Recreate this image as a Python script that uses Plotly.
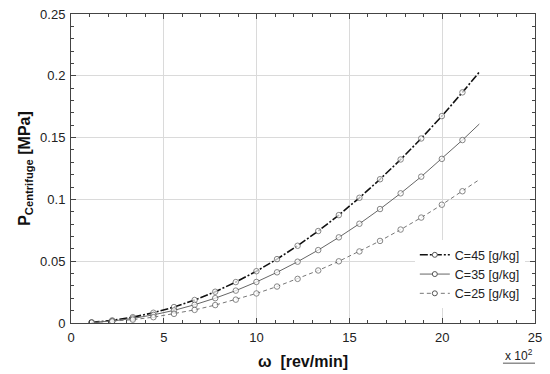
import plotly.graph_objects as go

omega = [1.11, 2.22, 3.33, 4.44, 5.55, 6.66, 7.77, 8.88, 9.99, 11.1,
         12.21, 13.32, 14.43, 15.54, 16.65, 17.76, 18.87, 19.98, 21.09, 22.0]
p_c45 = [0.0005, 0.0021, 0.0047, 0.0083, 0.0129, 0.0186, 0.0253, 0.0331, 0.0419, 0.0517,
         0.0625, 0.0744, 0.0873, 0.1013, 0.1163, 0.1323, 0.1493, 0.1674, 0.1866, 0.203]
p_c35 = [0.0004, 0.0016, 0.0037, 0.0066, 0.0102, 0.0148, 0.0201, 0.0262, 0.0332, 0.0410,
         0.0496, 0.0590, 0.0693, 0.0803, 0.0922, 0.1049, 0.1184, 0.1328, 0.1480, 0.161]
p_c25 = [0.0003, 0.0012, 0.0027, 0.0047, 0.0074, 0.0106, 0.0145, 0.0189, 0.0239, 0.0295,
         0.0357, 0.0425, 0.0499, 0.0579, 0.0664, 0.0756, 0.0853, 0.0957, 0.1066, 0.116]
labels = ["C=45 [g/kg]", "C=35 [g/kg]", "C=25 [g/kg]"]

FONT = "Arial, Liberation Sans, sans-serif"
styles = [
    dict(color="#111111", width=1.6, dash="8px,2px,2px,2px"),
    dict(color="#666666", width=1.0, dash="solid"),
    dict(color="#777777", width=1.0, dash="4px,3px"),
]
msize = [5.5] * (len(omega) - 1) + [0]

fig = go.Figure()
for ys, lab, st in zip([p_c45, p_c35, p_c25], labels, styles):
    fig.add_trace(go.Scatter(
        x=omega, y=ys, mode="lines+markers", name=lab, showlegend=False,
        line=st,
        marker=dict(symbol="circle", size=msize, color="white",
                    line=dict(color="#555555", width=1)),
    ))
    fig.add_trace(go.Scatter(
        x=[None], y=[None], mode="lines+markers", name=lab,
        line=st,
        marker=dict(symbol="circle", size=5, color="white",
                    line=dict(color="#555555", width=1)),
    ))

axis_common = dict(
    showline=True, linecolor="#444444", linewidth=1, mirror="allticks",
    ticks="inside", ticklen=5, tickcolor="#444444",
    showgrid=True, gridcolor="#dadada", gridwidth=1, zeroline=False,
    tickfont=dict(family=FONT, size=13, color="#222222"),
    automargin=False,
)
fig.update_xaxes(
    range=[0, 25], tickmode="array", tickvals=[0, 5, 10, 15, 20, 25],
    ticktext=["0", "5", "10", "15", "20", "25"], ticklabelstandoff=2,
    minor=dict(dtick=1, tick0=0, ticks="inside", ticklen=3, tickcolor="#444444", showgrid=False),
    title=dict(text="<b>ω  [rev/min]</b>", font=dict(family=FONT, size=16, color="#111111"), standoff=12),
    **axis_common,
)
fig.update_yaxes(
    range=[0, 0.25], tickmode="array", tickvals=[0, 0.05, 0.1, 0.15, 0.2, 0.25],
    ticktext=["0", "0.05", "0.1", "0.15", "0.2", "0.25"], ticklabelstandoff=2,
    minor=dict(dtick=0.01, tick0=0, ticks="inside", ticklen=3, tickcolor="#444444", showgrid=False),
    title=dict(text="<b>P<sub>Centrifuge</sub> [MPa]</b>", font=dict(family=FONT, size=16, color="#111111"), standoff=5),
    **axis_common,
)

fig.add_annotation(xref="paper", yref="paper", x=1.0, y=-0.07, xanchor="right", yanchor="top",
                   text="x 10<sup>2</sup>", showarrow=False,
                   font=dict(family=FONT, size=12, color="#222222"))
fig.add_shape(type="line", xref="paper", yref="paper", x0=0.931, x1=1.0, y0=-0.13, y1=-0.13,
              line=dict(color="#555555", width=1))

fig.update_layout(
    width=550, height=374,
    margin=dict(l=71, r=15, t=14, b=51),
    paper_bgcolor="white", plot_bgcolor="white",
    legend=dict(x=0.741, y=0.268, xanchor="left", yanchor="top",
                bgcolor="white", borderwidth=0,
                font=dict(family=FONT, size=12.5, color="#222222"),
                tracegroupgap=0, itemwidth=30),
    font=dict(family=FONT),
)
fig.write_html("out.html", config={"displayModeBar": False},
               post_script="document.body.style.margin='0';document.body.style.padding='0';")
